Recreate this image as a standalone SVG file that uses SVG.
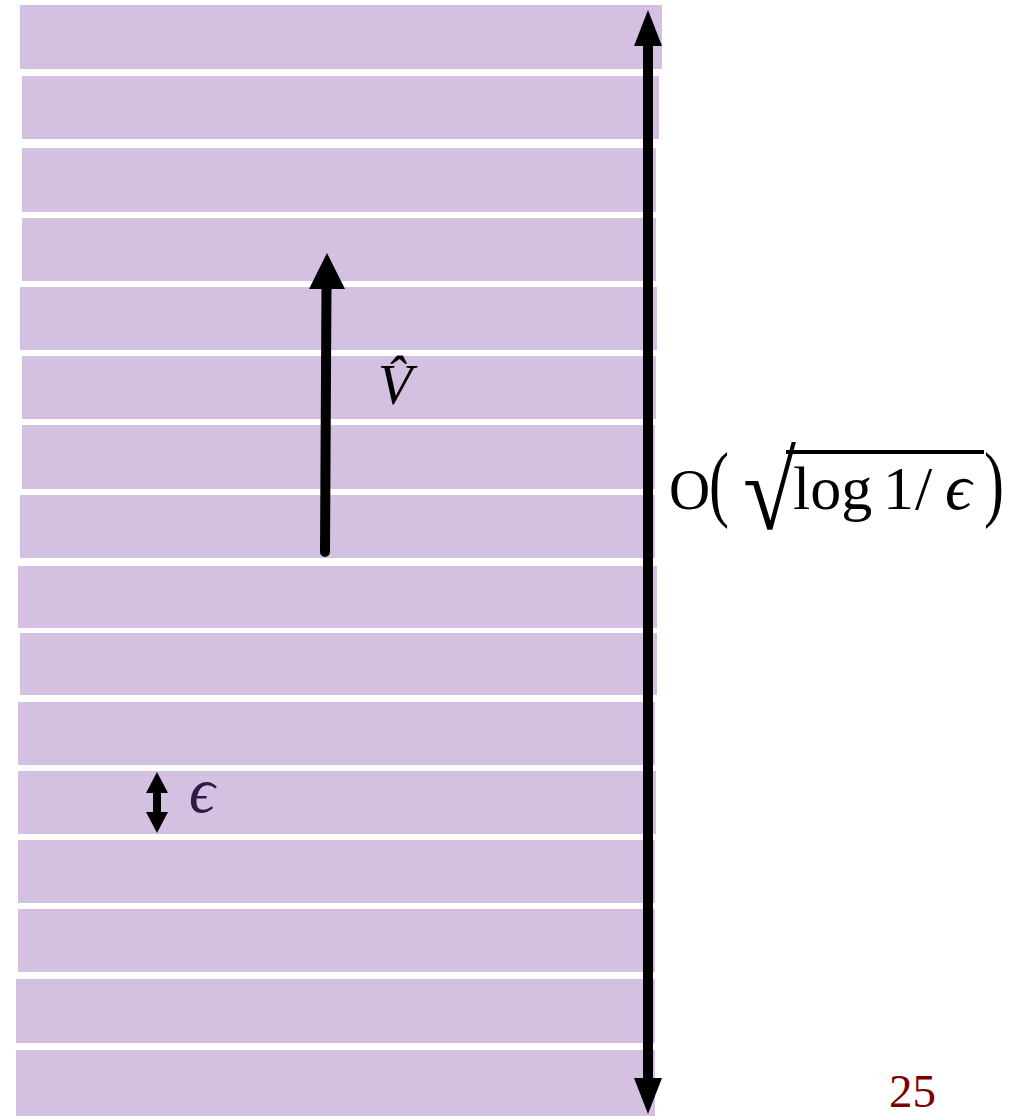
<svg xmlns="http://www.w3.org/2000/svg" width="1016" height="1116" viewBox="0 0 1016 1116">
<style>
.stripe{fill:#D4C0E1}
.math{font-family:"Liberation Serif","DejaVu Serif",serif;fill:#000}
</style>
<rect width="1016" height="1116" fill="#fff"/>
<g id="stripes">
<rect class="stripe" x="20" y="5" width="642" height="64"/>
<rect class="stripe" x="22" y="76" width="637" height="63"/>
<rect class="stripe" x="22" y="148" width="634" height="64"/>
<rect class="stripe" x="22" y="218" width="634" height="63"/>
<rect class="stripe" x="20" y="287" width="637" height="63"/>
<rect class="stripe" x="22" y="356" width="634" height="63"/>
<rect class="stripe" x="22" y="425" width="633" height="64"/>
<rect class="stripe" x="20" y="495" width="635" height="63"/>
<rect class="stripe" x="18" y="566" width="639" height="62"/>
<rect class="stripe" x="20" y="633" width="637" height="62"/>
<rect class="stripe" x="18" y="702" width="637" height="63"/>
<rect class="stripe" x="18" y="771" width="638" height="63"/>
<rect class="stripe" x="18" y="840" width="637" height="63"/>
<rect class="stripe" x="18" y="909" width="637" height="63"/>
<rect class="stripe" x="16" y="979" width="639" height="64"/>
<rect class="stripe" x="16" y="1050" width="639" height="66"/>
</g>
<g id="connectors" fill="#000">
<g id="range-arrow">
<rect x="643" y="44" width="10" height="1035"/>
<polygon points="648,10 634,46 662,46"/>
<polygon points="648,1114 634,1078 662,1078"/>
</g>
<g id="v-arrow">
<line x1="325" y1="552" x2="326.5" y2="285" stroke="#000" stroke-width="10" stroke-linecap="round"/>
<polygon points="327,253 309,289 345,289"/>
</g>
<g id="eps-arrow">
<rect x="153" y="790" width="8" height="26"/>
<polygon points="157,772 146,793 168,793"/>
<polygon points="157,833 146,812 168,812"/>
</g>
</g>
<g id="label-v">
<text class="math" x="378" y="404" font-size="56" font-style="italic">V&#x302;</text>
</g>
<g id="label-eps">
<text x="189" y="812" font-family="Liberation Serif, DejaVu Serif, serif" font-size="64" font-style="italic" fill="#2E1A47">ϵ</text>
</g>
<g id="label-range">
<text class="math" x="669" y="509" font-size="57">O</text>
<text class="math" x="709" y="365" font-size="60" transform="scale(1,1.4)">(</text>
<text class="math" x="646" y="404" font-size="84" transform="scale(1.15,1.31)">√</text>
<line x1="786" y1="452" x2="984" y2="452" stroke="#000" stroke-width="4"/>
<text class="math" x="793" y="509" font-size="62">log</text>
<text class="math" x="883" y="509" font-size="62">1</text>
<text class="math" x="915" y="509" font-size="62">/</text>
<text class="math" x="945" y="509" font-size="66" font-style="italic">ϵ</text>
<text class="math" x="984" y="365" font-size="60" transform="scale(1,1.4)">)</text>
</g>
<g id="page-number">
<text x="889" y="1107" font-family="Liberation Serif, serif" font-size="47" fill="#7B0000">25</text>
</g>
</svg>
